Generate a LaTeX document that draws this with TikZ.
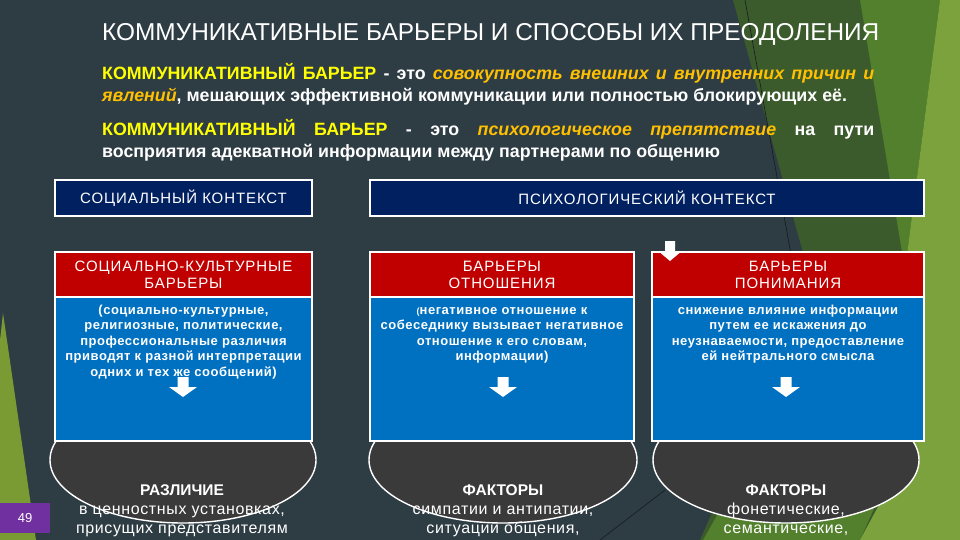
\documentclass[tikz,border=0pt]{standalone}
\usepackage{fontspec}
\setmainfont{Liberation Sans}
\usetikzlibrary{shapes.geometric}
\hyphenpenalty=10000
\exhyphenpenalty=10000
\definecolor{bg}{HTML}{2E3C44}
\definecolor{dkgreen}{HTML}{3B5B2C}
\definecolor{mdgreen}{HTML}{52802D}
\definecolor{ltgreen}{HTML}{7BA23C}
\definecolor{olive}{HTML}{7A9A34}
\definecolor{navy}{HTML}{002060}
\definecolor{redbox}{HTML}{C00000}
\definecolor{bluebox}{HTML}{0070C0}
\definecolor{ellfill}{HTML}{3A3A3A}
\definecolor{pagepurple}{HTML}{7030A0}
\definecolor{yel}{HTML}{FFFF00}
\definecolor{gold}{HTML}{FFC000}
\tikzset{
  hdrbox/.style={draw=white, line width=1.5pt, fill=navy, text=white, minimum height=36, inner sep=0,
    font=\fontsize{15}{17}\selectfont\addfontfeature{LetterSpace=6}},
  redhdr/.style={draw=white, line width=1.5pt, fill=redbox, text=white, minimum height=45, inner sep=0,
    align=center, font=\fontsize{15}{17}\selectfont\addfontfeature{LetterSpace=6}},
  bluebody/.style={draw=white, line width=1.5pt, fill=bluebox, minimum height=144, inner sep=0},
  bodytext/.style={anchor=north, align=center, inner sep=0, text=white,
    font=\bfseries\fontsize{13}{15.5}\selectfont\addfontfeature{LetterSpace=4}},
  oval/.style={ellipse, draw=white, line width=1.4pt, fill=ellfill, minimum height=126, inner sep=0},
  ovaltext/.style={anchor=north, align=center, inner sep=0, text=white,
    font=\fontsize{16}{19}\selectfont\addfontfeature{LetterSpace=4}},
  deftext/.style={anchor=north west, text width=772pt, align=justify, inner sep=0, text=white,
    font=\bfseries\fontsize{17.8}{22}\selectfont},
  downarrow/.style={fill=white}
}
\begin{document}
\begin{tikzpicture}[x=1pt,y=-1pt]
\useasboundingbox (0,0) rectangle (960,540);
\fill[bg] (0,0) rectangle (960,540);
% background facets
\fill[dkgreen] (733,0) -- (960,0) -- (960,540) -- (700,540) -- (812,285) -- cycle;
\fill[mdgreen] (860,0) -- (940,0) -- (905,270) -- cycle;
\fill[mdgreen] (703,540) -- (760,440) -- (900,450) -- (860,540) -- cycle;
\fill[ltgreen] (940,0) -- (960,0) -- (960,540) -- (860,540) -- (925,420) -- (905,270) -- cycle;
\draw[line width=0.6pt, black!55!bg] (745,0) -- (792,260);
\draw[line width=0.6pt, black!55!bg] (600,540) -- (665,490);
\fill[olive] (3,313) -- (36,540) -- (0,540) -- (0,340) -- cycle;
% page number
\node[fill=pagepurple, text=white, minimum width=50, minimum height=30, inner sep=0,
  anchor=north west, font=\fontsize{13}{15}\selectfont] (pg) at (0,503) {49};
% title
\node[anchor=west, inner sep=0, text=white, font=\fontsize{24.4}{28}\selectfont] (title) at (102,34.5)
  {КОММУНИКАТИВНЫЕ БАРЬЕРЫ И СПОСОБЫ ИХ ПРЕОДОЛЕНИЯ};
% definitions
\node[deftext] (def1) at (102,63.5) {\textcolor{yel}{КОММУНИКАТИВНЫЙ БАРЬЕР} - это
  \textcolor{gold}{\itshape совокупность внешних и внутренних причин и\linebreak явлений},
  мешающих эффективной коммуникации или полностью блокирующих её.};
\node[deftext] (def2) at (102,119.5) {\textcolor{yel}{КОММУНИКАТИВНЫЙ БАРЬЕР} - это
  \textcolor{gold}{\itshape психологическое препятствие} на пути\linebreak
  восприятия адекватной информации между партнерами по общению};
% context headers
\node[hdrbox, minimum width=257] (soc) at (183.5,198) {СОЦИАЛЬНЫЙ КОНТЕКСТ};
\node[hdrbox, minimum width=554] (psy) at (647,198) {ПСИХОЛОГИЧЕСКИЙ КОНТЕКСТ};
% ovals (behind boxes)
\node[oval, minimum width=266] (o1) at (183,460) {};
\node[oval, minimum width=268] (o2) at (503,460) {};
\node[oval, minimum width=266] (o3) at (786,460) {};
% blue bodies
\node[bluebody, minimum width=257] (b1) at (183.5,369) {};
\node[bluebody, minimum width=264] (b2) at (502,369) {};
\node[bluebody, minimum width=272] (b3) at (788,369) {};
% red headers
\node[redhdr, minimum width=257] (r1) at (183.5,274.5) {СОЦИАЛЬНО-КУЛЬТУРНЫЕ\\БАРЬЕРЫ};
\node[redhdr, minimum width=264] (r2) at (502,274.5) {БАРЬЕРЫ\\ОТНОШЕНИЯ};
\node[redhdr, minimum width=272] (r3) at (788,274.5) {БАРЬЕРЫ\\ПОНИМАНИЯ};
% body texts
\node[bodytext] (t1) at (183.5,303) {\strut(социально-культурные,\\религиозные, политические,\\профессиональные различия\\приводят к разной интерпретации\\одних и тех же сообщений)};
\node[bodytext] (t2) at (502,303) {\strut{\fontsize{9}{15.5}\selectfont(}негативное отношение к\\собеседнику вызывает негативное\\отношение к его словам,\\информации)};
\node[bodytext] (t3) at (788,303) {\strut снижение влияние информации\\путем ее искажения до\\неузнаваемости, предоставление\\ей нейтрального смысла};
% arrows
\foreach \n/\x in {a1/183, a2/503, a3/786} {
  \coordinate (\n) at (\x,377);
  \fill[downarrow] (\n) ++(-5.5,0) -- ++(11,0) -- ++(0,10) -- ++(8.5,0) -- ++(-14,10) -- ++(-14,-10) -- ++(8.5,0) -- cycle;
}
\coordinate (a0) at (670,241);
\fill[downarrow] (a0) ++(-5,0) -- ++(10,0) -- ++(0,12) -- ++(4.5,0) -- ++(-9.5,8) -- ++(-9.5,-8) -- ++(4.5,0) -- cycle;
% oval texts
\node[ovaltext] (e1) at (182,481.5) {\strut{\bfseries\addfontfeature{LetterSpace=0}\fontsize{15.5}{19}\selectfont РАЗЛИЧИЕ}\\в ценностных установках,\\присущих представителям};
\node[ovaltext] (e2) at (503,481.5) {\strut{\bfseries\addfontfeature{LetterSpace=0}\fontsize{15.5}{19}\selectfont ФАКТОРЫ}\\симпатии и антипатии,\\ситуации общения,};
\node[ovaltext] (e3) at (786,481.5) {\strut{\bfseries\addfontfeature{LetterSpace=0}\fontsize{15.5}{19}\selectfont ФАКТОРЫ}\\фонетические,\\семантические,};
\end{tikzpicture}
\end{document}
